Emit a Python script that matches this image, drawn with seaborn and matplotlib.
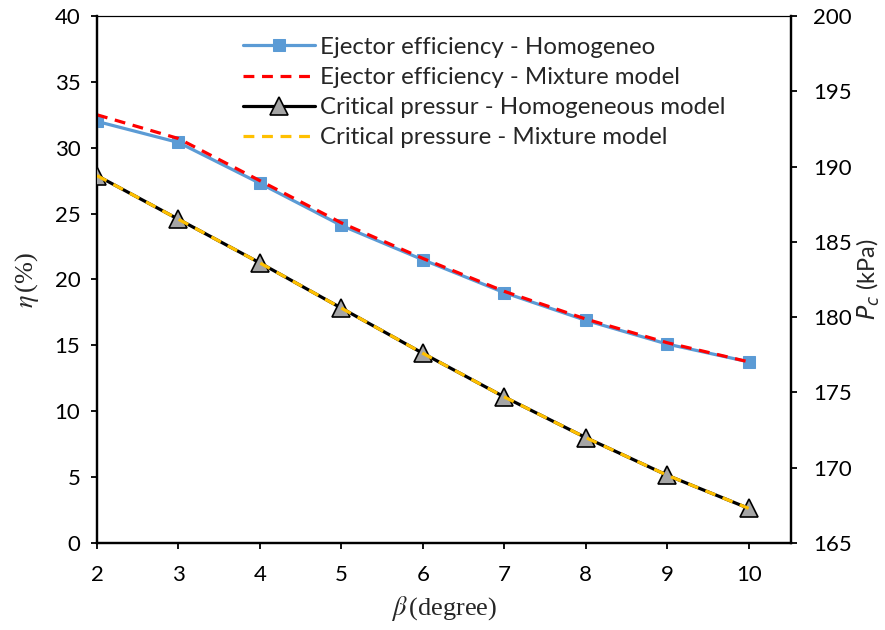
import matplotlib
matplotlib.use("Agg")
import matplotlib.pyplot as plt
import seaborn as sns
import pandas as pd

# Divergence angle of the ejector (degrees)
beta = [2, 3, 4, 5, 6, 7, 8, 9, 10]

# Ejector efficiency (%)
eta_homogeneous = [32.0, 30.4, 27.3, 24.1, 21.5, 19.0, 16.9, 15.1, 13.75]
eta_mixture = [32.5, 30.7, 27.5, 24.3, 21.6, 19.1, 17.0, 15.2, 13.75]

# Critical pressure (kPa)
pc_homogeneous = [189.4, 186.5, 183.6, 180.6, 177.6, 174.7, 172.0, 169.5, 167.3]
pc_mixture = [189.4, 186.5, 183.6, 180.6, 177.6, 174.7, 172.0, 169.5, 167.3]

labels = [
    "Ejector efficiency - Homogeneo",
    "Ejector efficiency - Mixture model",
    "Critical pressur - Homogeneous model",
    "Critical pressure - Mixture model",
]

df = pd.DataFrame({
    "beta": beta,
    "eta_h": eta_homogeneous,
    "eta_m": eta_mixture,
    "pc_h": pc_homogeneous,
    "pc_m": pc_mixture,
})

sns.set_theme(style="ticks")
plt.rcParams["font.family"] = ["Lato", "DejaVu Sans"]
plt.rcParams["font.size"] = 16

fig = plt.figure(figsize=(8.85, 6.3), dpi=100)
ax = fig.add_axes([0.1096, 0.1381, 0.7842, 0.8365])
ax2 = ax.twinx()

blue = "#5B9BD5"
red = "#FF0000"
yellow = "#FFC000"

sns.lineplot(data=df, x="beta", y="eta_h", ax=ax, color=blue, linewidth=2.3,
             marker="s", markersize=8.5, markeredgecolor=blue,
             label=labels[0], legend=False, zorder=3)
sns.lineplot(data=df, x="beta", y="eta_m", ax=ax, color=red, linewidth=2.3,
             linestyle=(0, (3.4, 2.4)), label=labels[1], legend=False, zorder=4)
sns.lineplot(data=df, x="beta", y="pc_h", ax=ax2, color="black", linewidth=2.3,
             marker="^", markersize=13, markerfacecolor="#A5A5A5",
             markeredgecolor="black", markeredgewidth=1.2,
             label=labels[2], legend=False, zorder=3)
sns.lineplot(data=df, x="beta", y="pc_m", ax=ax2, color=yellow, linewidth=2.3,
             linestyle=(0, (3.4, 2.4)), label=labels[3], legend=False, zorder=4)

ax.set_xlim(2, 10.52)
ax.set_ylim(0, 40)
ax2.set_ylim(165, 200)
ax.set_xticks(beta)
ax.set_yticks(range(0, 41, 5))
ax2.set_yticks(range(165, 201, 5))

for a in (ax, ax2):
    for side in ("left", "bottom", "right"):
        a.spines[side].set_linewidth(1.6)
        a.spines[side].set_color("black")
    a.spines["top"].set_linewidth(0.8)
    a.spines["top"].set_color("black")
    a.tick_params(axis="both", direction="out", length=4, width=1.3,
                  colors="black", labelsize=16, pad=5)

ax.tick_params(axis="x", pad=12)
ax.tick_params(axis="y", pad=8)
ax2.tick_params(axis="y", pad=12)

ax.set_xlabel(r"$\beta\,$(degree)", fontsize=19, family="Liberation Serif",
              math_fontfamily="stix", labelpad=6)
ax.set_ylabel(r"$\eta\,$(%)", fontsize=19, family="Liberation Serif",
              math_fontfamily="stix", labelpad=10)
ax2.set_ylabel(r"$P_c$ (kPa)", fontsize=17, math_fontfamily="dejavusans",
               labelpad=2)

handles = ax.get_lines()[:2] + ax2.get_lines()[:2]
leg = ax.legend(handles, labels, loc="upper left", bbox_to_anchor=(0.188, 0.99),
                frameon=False, fontsize=17.3, handlelength=3.0,
                handletextpad=0.2, labelspacing=0.38, borderaxespad=0.25)

fig.savefig("out.png", dpi=100)
